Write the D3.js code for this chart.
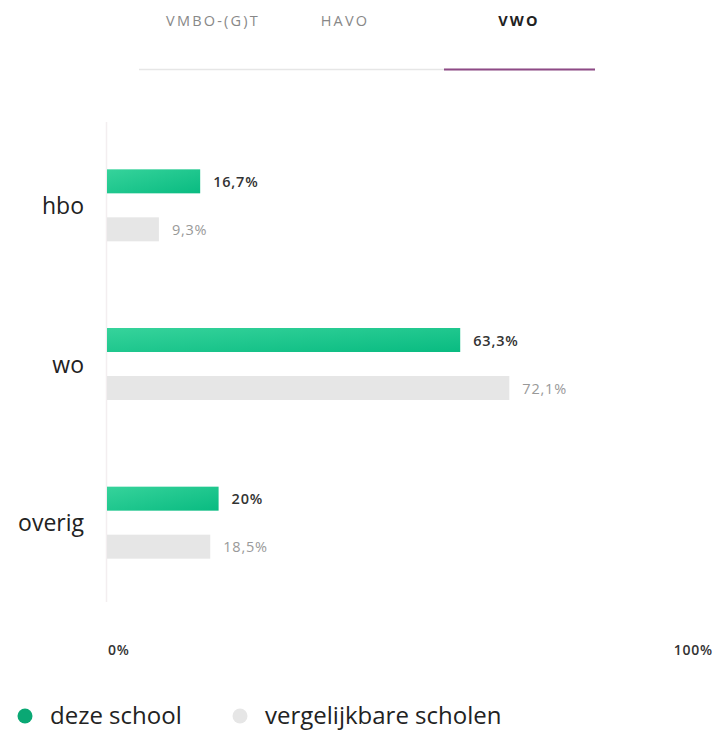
<!DOCTYPE html>
<html><head><meta charset="utf-8">
<script src="https://cdn.jsdelivr.net/npm/d3@7"></script>
<style>body{margin:0;background:#fff;font-family:"Open Sans",sans-serif}</style>
</head><body>
<svg id="c" width="715" height="731" style="font-family:'Open Sans',sans-serif"></svg>
<script>
const tabs = ["VMBO-(G)T", "HAVO", "VWO"];
const activeTab = "VWO";
const categories = ["hbo", "wo", "overig"];
const schoolValues = [16.7, 63.3, 20];
const schoolLabels = ["16,7%", "63,3%", "20%"];
const compareValues = [9.3, 72.1, 18.5];
const compareLabels = ["9,3%", "72,1%", "18,5%"];
const axisTicks = [0, 100];
const axisTickLabels = ["0%", "100%"];
const legendLabels = ["deze school", "vergelijkbare scholen"];

const svg = d3.select("#c");
const defs = svg.append("defs");
const g = defs.append("linearGradient").attr("id","gr").attr("x1","0").attr("y1","0").attr("x2","1").attr("y2","1");
g.append("stop").attr("offset","0%").attr("stop-color","#36d39b");
g.append("stop").attr("offset","100%").attr("stop-color","#09bb81");

// tabs
const tabPos = {"VMBO-(G)T":213,"HAVO":345,"VWO":519};
svg.append("line").attr("x1",139).attr("x2",595).attr("y1",69.5).attr("y2",69.5).attr("stroke","#e6e6e6").attr("stroke-width",1.5);
svg.append("line").attr("x1",444).attr("x2",595).attr("y1",69.5).attr("y2",69.5).attr("stroke","#8e4a86").attr("stroke-width",2);
svg.selectAll("text.tab").data(tabs).join("text").attr("class","tab")
  .attr("x",d=>tabPos[d]).attr("y",25.5).attr("text-anchor","middle")
  .attr("font-size",14.5).attr("letter-spacing","2.2px")
  .attr("font-weight",d=>d===activeTab?700:400)
  .attr("fill",d=>d===activeTab?"#222":"#888").text(d=>d);

const x = d3.scaleLinear().domain([0,100]).range([107, 665]);
const y = d3.scaleBand().domain(categories).range([126, 602]).paddingInner(0).paddingOuter(0);
const bh = 24;

svg.append("line").attr("x1",106.5).attr("x2",106.5).attr("y1",122).attr("y2",602).attr("stroke","#f3eef0").attr("stroke-width",1.5);

categories.forEach((c,i)=>{
  const cy = y(c) + y.bandwidth()/2;
  svg.append("text").attr("x",84).attr("y",cy+8.5).attr("text-anchor","end").attr("font-size",23).attr("fill","#222").text(c);
  svg.append("rect").attr("x",x(0)).attr("y",cy-36).attr("width",x(schoolValues[i])-x(0)).attr("height",bh).attr("fill","url(#gr)");
  svg.append("text").attr("x",x(schoolValues[i])+13).attr("y",cy-18.5).attr("font-size",14.5).attr("font-weight",600).attr("letter-spacing","0.8px").attr("fill","#333").text(schoolLabels[i]);
  svg.append("rect").attr("x",x(0)).attr("y",cy+12).attr("width",x(compareValues[i])-x(0)).attr("height",bh).attr("fill","#e6e6e6");
  svg.append("text").attr("x",x(compareValues[i])+13).attr("y",cy+29.5).attr("font-size",14.5).attr("letter-spacing","0.8px").attr("fill","#999").text(compareLabels[i]);
});

svg.selectAll("text.tick").data(axisTicks).join("text").attr("class","tick")
  .attr("x",(d,i)=>i===0?x(d)+1:713).attr("y",655).attr("text-anchor",(d,i)=>i===0?"start":"end")
  .attr("font-size",14).attr("font-weight",600).attr("letter-spacing","0.8px").attr("fill","#333").text((d,i)=>axisTickLabels[i]);

const lx = [25, 240];
const lc = ["#0aa874", "#e6e6e6"];
legendLabels.forEach((l,i)=>{
  svg.append("circle").attr("cx",lx[i]).attr("cy",716).attr("r",7.5).attr("fill",lc[i]);
  svg.append("text").attr("x",lx[i]+25).attr("y",724).attr("font-size",24).attr("fill","#222").text(l);
});
</script>
</body></html>
